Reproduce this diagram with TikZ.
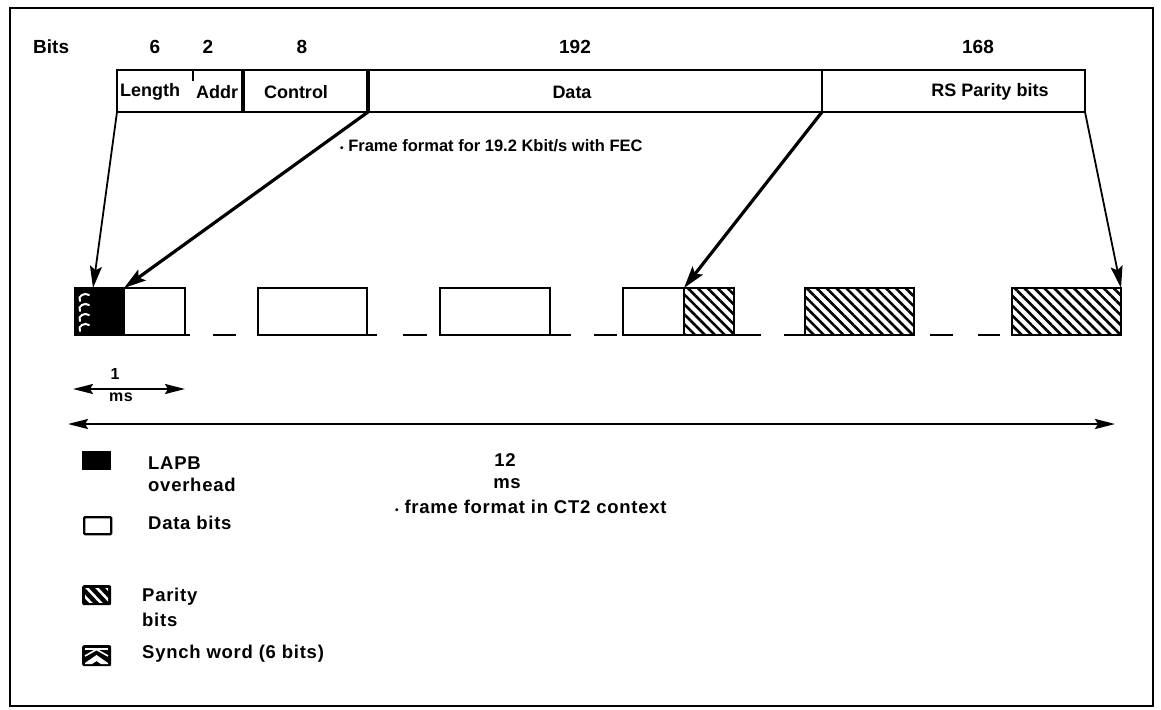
\documentclass[tikz,border=0pt]{standalone}
\usepackage{fontspec}
\setmainfont{Liberation Sans}
\newfontfamily\widefont[LetterSpace=4]{Liberation Sans}
\usetikzlibrary{arrows.meta,patterns.meta}
\begin{document}
\begin{tikzpicture}[x=1pt,y=-1pt,
  fld/.style={draw, line width=2.4pt, minimum height=42pt, inner sep=0pt, outer sep=0pt, anchor=north west},
  fbox/.style={draw, line width=2.4pt, minimum height=47pt, inner sep=0pt, outer sep=0pt, anchor=north west},
  hatch/.style={pattern={Lines[angle=-45,distance=7pt,line width=2.6pt]}},
  toplbl/.style={font=\fontsize{19}{22}\selectfont\bfseries, inner sep=0pt},
  boxlbl/.style={font=\fontsize{18}{21}\selectfont\bfseries, inner sep=0pt},
  captxt/.style={font=\fontsize{16.5}{20}\selectfont\bfseries, inner sep=0pt, anchor=west},
  widetxt/.style={font=\widefont\fontsize{18.5}{22}\selectfont\bfseries, inner sep=0pt},
  leg/.style={widetxt, anchor=west},
  thinarr/.style={line width=1.8pt, -{Stealth[length=22pt,width=12pt,inset=4pt]}},
  thickarr/.style={line width=3.2pt, -{Stealth[length=22pt,width=13pt,inset=4pt]}},
  dimarr/.style={line width=2pt, {Stealth[length=20pt,width=10pt,inset=3pt]}-{Stealth[length=20pt,width=10pt,inset=3pt]}},
  dashseg/.style={line width=2.4pt}
]
\useasboundingbox (0,0) rectangle (1161,709);
\draw[line width=1.8pt] (10,8) rectangle (1153,706);

% header labels
\node[toplbl, anchor=west] (bits) at (33,47) {Bits};
\node[toplbl] (n6) at (155,47) {6};
\node[toplbl] (n2) at (208,47) {2};
\node[toplbl] (n8) at (302,47) {8};
\node[toplbl] (n192) at (575,47) {192};
\node[toplbl] (n168) at (978,47) {168};

% top frame fields
\node[fld, minimum width=126pt] (lenaddr) at (117,70) {};
\node[fld, minimum width=125pt] (ctrl) at (243,70) {};
\node[fld, minimum width=454pt] (data) at (368,70) {};
\node[fld, minimum width=263pt] (rs) at (822,70) {};
\draw[line width=3.2pt] (ctrl.north west) -- (ctrl.south west);
\draw[line width=3.2pt] (ctrl.north east) -- (ctrl.south east);
\draw[line width=2pt] (193,70) -- (193,81);
\node[boxlbl, anchor=west] (tlen) at (120,92) {Length};
\node[boxlbl, anchor=west] (taddr) at (196,92) {Addr};
\node[boxlbl] (tctrl) at (296,92) {Control};
\node[boxlbl] (tdata) at (572,92) {Data};
\node[boxlbl] (trs) at (990,92) {RS Parity bits};

\node[captxt] (cap1) at (340,146) {{\fontsize{10}{10}\selectfont•}\ Frame format for 19.2 Kbit/s with FEC};

% CT2 frame row
\fill (75,288) rectangle (124,335);
\foreach \yy in {297,307,317,327}{
  \draw[white, line width=2pt, line cap=round] (80,\yy+4) .. controls (77,\yy-1) and (85,\yy-5) .. (89,\yy-2);
}
\node[fbox, minimum width=110pt] (b1) at (75,288) {};
\draw[line width=2.4pt] (124,288) -- (124,335);
\node[fbox, minimum width=109pt] (b2) at (258,288) {};
\node[fbox, minimum width=110pt] (b3) at (440,288) {};
\node[fbox, minimum width=50pt, hatch] (h4) at (684,288) {};
\node[fbox, minimum width=111pt] (b4) at (623,288) {};
\node[fbox, minimum width=109pt, hatch] (b5) at (805,288) {};
\node[fbox, minimum width=109pt, hatch] (b6) at (1012,288) {};

\draw[dashseg] (b1.south east) -- ++(5,0);
\draw[dashseg] (213,335) -- (236,335);
\draw[dashseg] (b2.south east) -- ++(10,0);
\draw[dashseg] (403,335) -- (427,335);
\draw[dashseg] (b3.south east) -- ++(21,0);
\draw[dashseg] (594,335) -- (617,335);
\draw[dashseg] (b4.south east) -- ++(27,0);
\draw[dashseg] (b5.south west) -- ++(-21,0);
\draw[dashseg] (930,335) -- (953,335);
\draw[dashseg] (978,335) -- (1000,335);

% arrows from fields to frame
\coordinate (t1) at (93,288);
\coordinate (t2) at (124,288);
\coordinate (t3) at (684,288);
\draw[thinarr] (lenaddr.south west) -- (t1);
\draw[thickarr] (ctrl.south east) -- (t2);
\draw[thickarr] (data.south east) -- (t3);
\draw[thinarr] (rs.south east) -- (b6.north east);

% time dimensions
\node[font=\fontsize{16}{18}\selectfont\bfseries, inner sep=0pt] (one) at (115,374) {1};
\node[widetxt, font=\widefont\fontsize{16}{18}\selectfont\bfseries] (ms1) at (121,397) {ms};
\coordinate (d1l) at (73,389); \coordinate (d1r) at (185,389);
\draw[dimarr] (d1l) -- (d1r);
\coordinate (d2l) at (68,424); \coordinate (d2r) at (1115,424);
\draw[dimarr, line width=2.2pt] (d2l) -- (d2r);
\node[widetxt] (twelve) at (505,460) {12};
\node[widetxt] (ms12) at (507,484) {ms};
\node[widetxt, anchor=west] (cap2) at (395,507) {{\fontsize{10}{10}\selectfont•}\ frame format in CT2 context};

% legend
\node[fill, minimum width=29pt, minimum height=19pt, inner sep=0pt, anchor=north west] (lg1) at (82,451) {};
\node[leg] (lt1) at (148,463) {LAPB};
\node[leg] (lt1b) at (148,485) {overhead};
\node[draw, line width=2.4pt, rounded corners=1pt, minimum width=27pt, minimum height=17pt, inner sep=0pt, anchor=north west] (lg2) at (83,516) {};
\node[leg] (lt2) at (148,523) {Data bits};
\node[fill, rounded corners=2pt, minimum width=29pt, minimum height=20pt, inner sep=0pt, anchor=north west] (lg3) at (82,585) {};
\begin{scope}
  \clip (85,588) rectangle (108,602);
  \foreach \xx in {76,86,96,106}{
    \draw[white, line width=2.6pt] (\xx,587) -- (\xx+16,604);
  }
\end{scope}
\node[leg] (lt3) at (142,597) {Parity};
\node[leg] (lt3b) at (142,620) {bits};
\node[fill, rounded corners=2pt, minimum width=29pt, minimum height=21pt, inner sep=0pt, anchor=north west] (lg4) at (82,645) {};
\fill[white] (85,648) rectangle (108,650);
\draw[white, line width=1.6pt] (85,656) -- (96.5,649.5) -- (108,656);
\fill[white] (85,663) -- (96.5,655) -- (108,663) -- (108,664) -- (101,664) -- (96.5,661) -- (92,664) -- (85,664) -- cycle;
\node[leg] (lt4) at (142,654) {Synch word (6 bits)};
\end{tikzpicture}
\end{document}
